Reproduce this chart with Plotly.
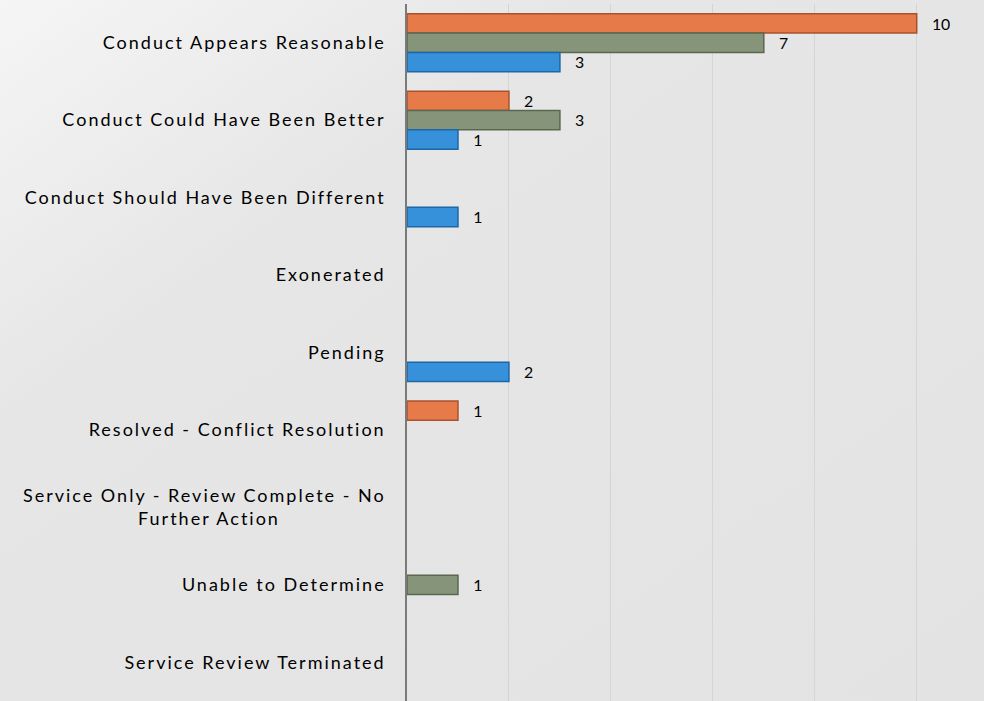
import plotly.graph_objects as go

categories = [
    "Conduct Appears Reasonable",
    "Conduct Could Have Been Better",
    "Conduct Should Have Been Different",
    "Exonerated",
    "Pending",
    "Resolved - Conflict Resolution",
    "Service Only - Review Complete - No<br>Further Action" + "\u00a0" * 16,
    "Unable to Determine",
    "Service Review Terminated",
]
series_orange = [10, 2, 0, 0, 0, 1, 0, 0, 0]
series_green = [7, 3, 0, 0, 0, 0, 0, 1, 0]
series_blue = [3, 1, 1, 0, 2, 0, 0, 0, 0]
series_names = ["Series 1", "Series 2", "Series 3"]

styles = [
    ("#E67A49", "#A9512E"),
    ("#86947A", "#5A674F"),
    ("#3691DA", "#1D67A6"),
]

FONT = "Lato, Carlito, sans-serif"

fig = go.Figure()
for name, vals, (fill, edge) in zip(series_names, [series_orange, series_green, series_blue], styles):
    fig.add_trace(go.Bar(
        y=categories,
        x=[v if v else None for v in vals],
        orientation="h",
        name=name,
        marker=dict(color=fill, line=dict(color=edge, width=1.5)),
        text=["\u00a0\u00a0\u00a0" + str(v) if v else "" for v in vals],
        textposition="outside",
        textfont=dict(family=FONT, size=18, color="#000000"),
        cliponaxis=False,
        hoverinfo="x+y+name",
    ))

W, H = 984, 701
L, R, T, B = 407, 0, 4, 0
pw, ph = W - L - R, H - T - B

bg_svg = (
    "data:image/svg+xml;utf8,"
    "<svg xmlns='http://www.w3.org/2000/svg' width='984' height='701' preserveAspectRatio='none'>"
    "<defs><linearGradient id='g' x1='0' y1='0' x2='1' y2='1'>"
    "<stop offset='0' stop-color='%23f5f5f5'/>"
    "<stop offset='0.3' stop-color='%23e6e6e6'/>"
    "<stop offset='1' stop-color='%23e3e3e3'/>"
    "</linearGradient></defs>"
    "<rect width='984' height='701' fill='url(%23g)'/></svg>"
)

fig.update_layout(
    width=W,
    height=H,
    barmode="group",
    bargap=0.25,
    bargroupgap=0,
    showlegend=False,
    paper_bgcolor="#e4e4e4",
    plot_bgcolor="rgba(0,0,0,0)",
    margin=dict(l=L, r=R, t=T, b=B),
    font=dict(family=FONT, size=18, color="#000000"),
    images=[dict(
        source=bg_svg,
        xref="paper", yref="paper",
        x=-L / pw, y=1 + T / ph,
        sizex=W / pw, sizey=H / ph,
        xanchor="left", yanchor="top",
        sizing="stretch",
        layer="below",
    )],
    xaxis=dict(
        range=[0, 11.32],
        dtick=2,
        showgrid=True,
        gridcolor="#d5d5d5",
        gridwidth=1.2,
        showticklabels=False,
        zeroline=False,
        showline=False,
    ),
    yaxis=dict(
        type="category",
        range=[8.5, -0.5],
        showline=True,
        linecolor="#7a7a7a",
        linewidth=1.5,
        showgrid=False,
        ticks="",
        ticklabelstandoff=16,
    ),
)

post = """
document.body.style.margin='0';
document.body.style.overflow='hidden';
var s=document.createElement('style');
s.textContent='.ytick text{letter-spacing:2px}';
document.head.appendChild(s);
"""

fig.write_html("out.html", post_script=post, config={"displayModeBar": False})
